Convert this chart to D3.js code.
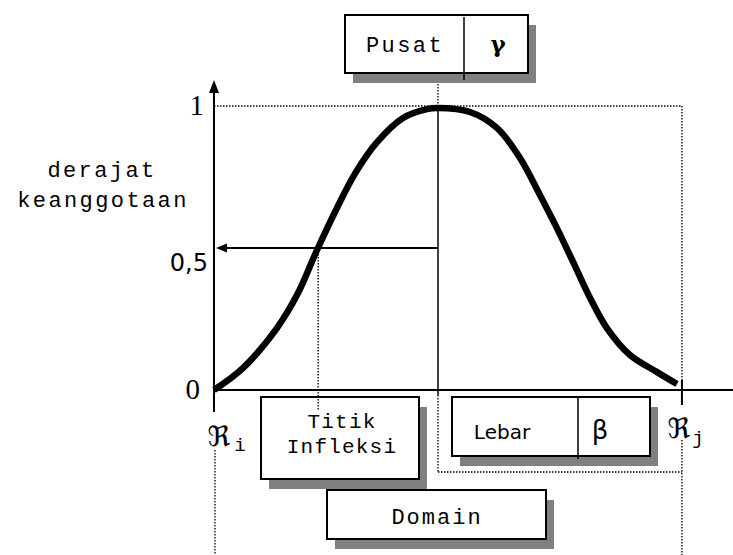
<!DOCTYPE html>
<html>
<head>
<meta charset="utf-8">
<script src="https://cdn.jsdelivr.net/npm/d3@7"></script>
<style>
  body { margin: 0; background: #fff; }
  svg { display: block; }
</style>
</head>
<body>
<div id="chart"></div>
<script>
var width = 733,
height = 555;

// curve: x in domain units (Ri = 0, centre = 100), mu in [0,1]
var curveX = [0, 12.9, 28.1, 37.1, 46.0, 54.9, 63.4, 72.8, 84.4, 95.1, 100,
    114.3, 126.3, 136.6, 145.5, 153.1, 160.3, 167.9, 175.4, 185.7, 197.8, 206.7];
var curveMu = [0, 0.077, 0.218, 0.335, 0.493, 0.641, 0.768, 0.873, 0.958, 0.989, 0.993,
    0.979, 0.923, 0.817, 0.687, 0.570, 0.451, 0.324, 0.218, 0.123, 0.063, 0.021];

// y ticks
var yTicks = [0, 0.5, 1];
var yTickLabels = ["0", "0,5", "1"];

// key points on the domain
var domainStart = 0;     // Ri
var centre = 100;        // gamma
var inflection = 46.5;   // mu = 0.5
var domainEnd = 208.9;   // Rj
var axisEnd = 231.7;

var yTitle = ["derajat", "keanggotaan"];
var pusatLabel = ["Pusat", "γ"];
var lebarLabel = ["Lebar", "β"];
var titikLabel = ["Titik", "Infleksi"];
var domainLabel = "Domain";

var mono = "'Liberation Mono', 'Courier New', monospace";
var serif = "'Liberation Serif', 'Times New Roman', serif";
var sans = "'DejaVu Sans', sans-serif";

var svg = d3.select('#chart').append('svg')
    .attr('width', width)
    .attr('height', height);

var scaleX = d3.scaleLinear().domain([0, 100]).range([214, 438]);
var scaleY = d3.scaleLinear().domain([0, 1]).range([390, 106]);

var dotted = "1.5,1.5";

function dotLine(x1, y1, x2, y2) {
    svg.append("line")
        .attr("x1", x1).attr("y1", y1)
        .attr("x2", x2).attr("y2", y2)
        .attr("stroke", "#000")
        .attr("stroke-width", 1.3)
        .attr("stroke-dasharray", dotted);
}

// shadowed box
function box(x, y, w, h) {
    svg.append("rect")
        .attr("x", x + 8).attr("y", y + 10)
        .attr("width", w).attr("height", h)
        .attr("fill", "#808080");
    svg.append("rect")
        .attr("x", x).attr("y", y)
        .attr("width", w).attr("height", h)
        .attr("fill", "#fff")
        .attr("stroke", "#000")
        .attr("stroke-width", 2);
}

function label(x, y, txt, font, size, opts) {
    opts = opts || {};
    return svg.append("text")
        .attr("x", x).attr("y", y)
        .attr("text-anchor", opts.anchor || "middle")
        .attr("font-family", font)
        .attr("font-size", size)
        .attr("font-weight", opts.bold ? "bold" : "normal")
        .attr("letter-spacing", opts.ls || 0)
        .text(txt);
}

// dotted guides
var x0 = scaleX(domainStart), xc = scaleX(centre), xe = scaleX(domainEnd);
var y0 = scaleY(0), y1 = scaleY(1);
dotLine(x0, y1, xe, y1);
dotLine(xe, y1, xe, y0 - 8);
dotLine(xe, 440, xe, height);
dotLine(xc, 57, xc, y1);
dotLine(xc, y0 + 5, xc, 472);
dotLine(xc, 472, xe, 472);
dotLine(x0 + 1, 450, x0 + 1, height);

// axes
svg.append("line")
    .attr("x1", x0).attr("y1", 90)
    .attr("x2", x0).attr("y2", 412)
    .attr("stroke", "#000").attr("stroke-width", 2);
svg.append("path")
    .attr("d", d3.line()([[x0, 80], [x0 - 5, 93], [x0 + 5, 93]]) + "Z")
    .attr("fill", "#000");
svg.append("line")
    .attr("x1", x0).attr("y1", y0)
    .attr("x2", scaleX(axisEnd)).attr("y2", y0)
    .attr("stroke", "#000").attr("stroke-width", 2);
svg.append("line")
    .attr("x1", xe).attr("y1", y0 - 10)
    .attr("x2", xe).attr("y2", y0 + 15)
    .attr("stroke", "#000").attr("stroke-width", 2);

// centre line
svg.append("line")
    .attr("x1", xc).attr("y1", y1)
    .attr("x2", xc).attr("y2", y0 + 5)
    .attr("stroke", "#000").attr("stroke-width", 1.5);

// arrow at mu = 0.5
var yh = scaleY(0.5);
svg.append("line")
    .attr("x1", xc).attr("y1", yh)
    .attr("x2", x0 + 8).attr("y2", yh)
    .attr("stroke", "#000").attr("stroke-width", 2);
svg.append("path")
    .attr("d", d3.line()([[x0 + 2, yh], [x0 + 13, yh - 4.5], [x0 + 13, yh + 4.5]]) + "Z")
    .attr("fill", "#000");

// inflection guide
dotLine(scaleX(inflection), yh + 6, scaleX(inflection), 396);

// membership curve
var lineFunc = d3.line()
    .x(function(d) { return scaleX(d[0]); })
    .y(function(d) { return scaleY(d[1]); })
    .curve(d3.curveCatmullRom.alpha(0.5));

svg.append("path")
    .datum(curveX.map(function(x, i) { return [x, curveMu[i]]; }))
    .attr("d", lineFunc)
    .attr("fill", "none")
    .attr("stroke", "#000")
    .attr("stroke-width", 6.5);

// y tick labels
var tickFonts = [serif, sans, serif];
var tickSizes = [29, 24, 29];
var tickDx = [200, 208, 204];
var tickDy = [9, 23, 9];
yTicks.forEach(function(t, i) {
    label(tickDx[i], scaleY(t) + tickDy[i], yTickLabels[i], tickFonts[i], tickSizes[i], {anchor: "end"});
});

// y title
label(102, 177, yTitle[0], mono, 22, {ls: 2.4});
label(103, 207, yTitle[1], mono, 22, {ls: 2.4});

// Pusat box
box(345, 15, 183, 58);
svg.append("line")
    .attr("x1", 464).attr("y1", 17).attr("x2", 464).attr("y2", 80)
    .attr("stroke", "#000").attr("stroke-width", 1.5);
label(405, 52, pusatLabel[0], mono, 22, {ls: 2.4});
label(498, 52, pusatLabel[1], "'DejaVu Serif', serif", 23, {bold: true});

// Titik Infleksi box
box(261, 397, 158, 82);
label(342, 428, titikLabel[0], mono, 21, {ls: 1.2});
label(342, 453, titikLabel[1], mono, 21, {ls: 1.2});
dotLine(scaleX(inflection), 396, scaleX(inflection), 410);

// Lebar box
box(452, 397, 198, 59);
svg.append("line")
    .attr("x1", 578).attr("y1", 397).attr("x2", 578).attr("y2", 459)
    .attr("stroke", "#000").attr("stroke-width", 1.5);
label(502, 439, lebarLabel[0], sans, 20);
label(600, 439, lebarLabel[1], sans, 26);

// Domain box
box(327, 490, 219, 49);
label(437, 524, domainLabel, mono, 22, {ls: 2});

// domain end labels
label(219, 446, "ℜ", sans, 28);
label(240, 451, "i", mono, 19);
label(679, 438, "ℜ", sans, 28);
label(698, 444, "j", mono, 19);
</script>
</body>
</html>
